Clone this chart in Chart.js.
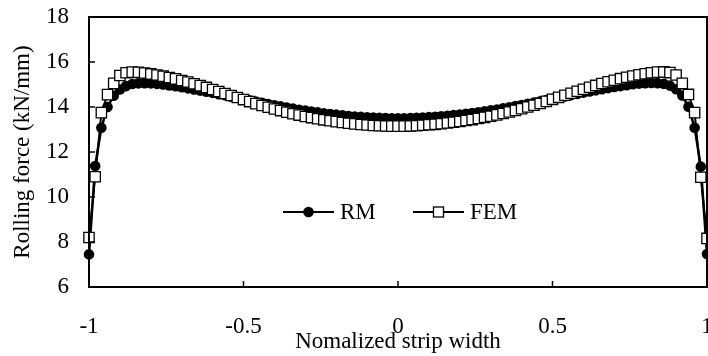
<!DOCTYPE html>
<html>
<head>
<meta charset="utf-8">
<script src="https://cdn.jsdelivr.net/npm/chart.js@4"></script>
<style>
html,body{margin:0;padding:0;background:#fff;}
#wrap{width:708px;height:356px;position:relative;}
</style>
</head>
<body>
<div id="wrap"><canvas id="c" width="708" height="356"></canvas></div>
<script>
// Normalized strip width positions
const xValues = [
-1.00,-0.98,-0.96,-0.94,-0.92,-0.90,-0.88,-0.86,-0.84,-0.82,-0.80,-0.78,-0.76,-0.74,-0.72,-0.70,-0.68,-0.66,-0.64,-0.62,
-0.60,-0.58,-0.56,-0.54,-0.52,-0.50,-0.48,-0.46,-0.44,-0.42,-0.40,-0.38,-0.36,-0.34,-0.32,-0.30,-0.28,-0.26,-0.24,-0.22,
-0.20,-0.18,-0.16,-0.14,-0.12,-0.10,-0.08,-0.06,-0.04,-0.02,0.00,
0.02,0.04,0.06,0.08,0.10,0.12,0.14,0.16,0.18,0.20,0.22,0.24,0.26,0.28,0.30,0.32,0.34,0.36,0.38,0.40,
0.42,0.44,0.46,0.48,0.50,0.52,0.54,0.56,0.58,0.60,0.62,0.64,0.66,0.68,0.70,0.72,0.74,0.76,0.78,0.80,
0.82,0.84,0.86,0.88,0.90,0.92,0.94,0.96,0.98,1.00
];
// RM rolling force (kN/mm)
const rmValues = [
7.45,11.38,13.08,14.00,14.50,14.78,14.93,15.02,15.05,15.06,15.05,15.03,15.00,14.96,14.92,14.88,14.83,14.78,14.73,14.68,
14.63,14.57,14.52,14.46,14.41,14.35,14.30,14.24,14.19,14.13,14.08,14.03,13.98,13.93,13.88,13.84,13.80,13.76,13.72,13.69,
13.66,13.63,13.60,13.58,13.56,13.54,13.53,13.52,13.51,13.50,13.50,
13.50,13.51,13.52,13.53,13.55,13.57,13.59,13.61,13.64,13.67,13.70,13.73,13.77,13.81,13.85,13.89,13.94,13.99,14.04,14.09,
14.14,14.20,14.25,14.31,14.36,14.42,14.47,14.53,14.58,14.64,14.69,14.74,14.79,14.84,14.89,14.93,14.97,15.01,15.04,15.06,
15.07,15.06,15.03,14.95,14.79,14.51,14.01,13.08,11.35,7.47
];
// FEM rolling force (kN/mm)
const femValues = [
8.20,10.90,13.75,14.55,15.05,15.40,15.52,15.55,15.54,15.51,15.47,15.42,15.37,15.31,15.25,15.18,15.11,15.03,14.95,14.87,
14.78,14.69,14.60,14.51,14.42,14.33,14.24,14.15,14.07,13.99,13.91,13.84,13.77,13.70,13.64,13.58,13.53,13.48,13.43,13.39,
13.35,13.31,13.28,13.25,13.22,13.20,13.18,13.17,13.16,13.15,13.15,
13.15,13.16,13.17,13.19,13.21,13.23,13.26,13.29,13.32,13.36,13.40,13.44,13.49,13.54,13.59,13.65,13.71,13.78,13.85,13.92,
14.00,14.08,14.16,14.25,14.34,14.43,14.52,14.61,14.70,14.79,14.88,14.96,15.04,15.12,15.19,15.26,15.32,15.38,15.43,15.48,
15.52,15.55,15.56,15.53,15.42,15.05,14.56,13.75,10.88,8.16
];
const seriesNames = ['RM', 'FEM'];
const xTickValues = [-1, -0.5, 0, 0.5, 1];
const yTickValues = [6, 8, 10, 12, 14, 16, 18];
const xTitle = 'Nomalized strip width';
const yTitle = 'Rolling force (kN/mm)';

const FONT = '"Liberation Serif", "Times New Roman", serif';
const FS = 23;

const toPts = (ys) => ys.map((y, i) => ({x: xValues[i], y}));

const frameTicks = {
  id: 'frameTicks',
  afterDraw(chart) {
    const {ctx, chartArea: a, scales} = chart;
    ctx.save();
    ctx.strokeStyle = '#000';
    ctx.lineWidth = 2;
    ctx.strokeRect(a.left, a.top, a.right - a.left, a.bottom - a.top);
    ctx.lineWidth = 1.5;
    const L = 6;
    xTickValues.forEach(v => {
      const px = scales.x.getPixelForValue(v);
      ctx.beginPath(); ctx.moveTo(px, a.bottom); ctx.lineTo(px, a.bottom - L); ctx.stroke();
    });
    yTickValues.forEach(v => {
      const py = scales.y.getPixelForValue(v);
      ctx.beginPath(); ctx.moveTo(a.left, py); ctx.lineTo(a.left + L, py); ctx.stroke();
    });
    ctx.restore();
  }
};

const legendPlugin = {
  id: 'customLegend',
  afterDraw(chart) {
    const {ctx, chartArea: a} = chart;
    const y = a.top + 195;
    const items = [
      {x0: a.left + 194, label: seriesNames[0], style: 'circle'},
      {x0: a.left + 324, label: seriesNames[1], style: 'rect'}
    ];
    ctx.save();
    items.forEach(it => {
      ctx.strokeStyle = '#000';
      ctx.lineWidth = 2;
      ctx.beginPath(); ctx.moveTo(it.x0, y); ctx.lineTo(it.x0 + 51, y); ctx.stroke();
      const cx = it.x0 + 25.5;
      if (it.style === 'circle') {
        ctx.fillStyle = '#000';
        ctx.beginPath(); ctx.arc(cx, y, 5.3, 0, Math.PI * 2); ctx.fill();
      } else {
        ctx.fillStyle = '#fff';
        ctx.lineWidth = 1.3;
        ctx.fillRect(cx - 5, y - 5, 10, 10);
        ctx.strokeRect(cx - 5, y - 5, 10, 10);
      }
      ctx.fillStyle = '#000';
      ctx.font = FS + 'px ' + FONT;
      ctx.textBaseline = 'middle';
      ctx.textAlign = 'left';
      ctx.fillText(it.label, it.x0 + 57, y + 1);
    });
    ctx.restore();
  }
};

function fixXAxis(s) {
  s.height = 69;
  s.paddingLeft = 0;
  s.paddingRight = 0;
}

new Chart(document.getElementById('c'), {
  type: 'line',
  data: {
    datasets: [
      {
        label: seriesNames[0],
        data: toPts(rmValues),
        borderColor: '#000',
        borderWidth: 2.5,
        backgroundColor: '#000',
        pointStyle: 'circle',
        pointRadius: 5.3,
        pointBorderWidth: 0,
        pointBackgroundColor: '#000',
        tension: 0,
        clip: false,
        order: 1
      },
      {
        label: seriesNames[1],
        data: toPts(femValues),
        borderColor: '#000',
        borderWidth: 2,
        backgroundColor: '#fff',
        pointStyle: 'rect',
        pointRadius: 7.3,
        pointBorderWidth: 1.3,
        pointBorderColor: '#000',
        pointBackgroundColor: '#fff',
        tension: 0,
        clip: false,
        order: 0
      }
    ]
  },
  options: {
    responsive: false,
    animation: false,
    devicePixelRatio: 1,
    layout: {autoPadding: false, padding: {top: 17, right: 1, left: 0, bottom: 0}},
    plugins: {legend: {display: false}, tooltip: {enabled: false}},
    scales: {
      x: {
        type: 'linear',
        min: -1, max: 1,
        afterBuildTicks: (s) => { s.ticks = xTickValues.map(v => ({value: v})); },
        afterFit: fixXAxis,
        ticks: {
          color: '#000',
          font: {family: FONT, size: FS},
          padding: 26,
          maxRotation: 0,
          autoSkip: false,
          callback: (v) => String(v)
        },
        grid: {display: false, drawTicks: false},
        border: {display: false},
        title: {display: true, text: xTitle, color: '#000', font: {family: FONT, size: FS}, padding: {top: 0, bottom: 0}}
      },
      y: {
        type: 'linear',
        min: 6, max: 18,
        afterBuildTicks: (s) => { s.ticks = yTickValues.map(v => ({value: v})); },
        afterFit: (s) => { s.width = 89; s.paddingTop = 0; s.paddingBottom = 0; },
        ticks: {
          color: '#000',
          font: {family: FONT, size: FS},
          padding: 20,
          autoSkip: false,
          callback: (v) => String(v)
        },
        grid: {display: false, drawTicks: false},
        border: {display: false},
        title: {display: true, text: yTitle, color: '#000', font: {family: FONT, size: FS}, padding: {top: 9, bottom: 0}}
      }
    }
  },
  plugins: [frameTicks, legendPlugin]
});
</script>
</body>
</html>
